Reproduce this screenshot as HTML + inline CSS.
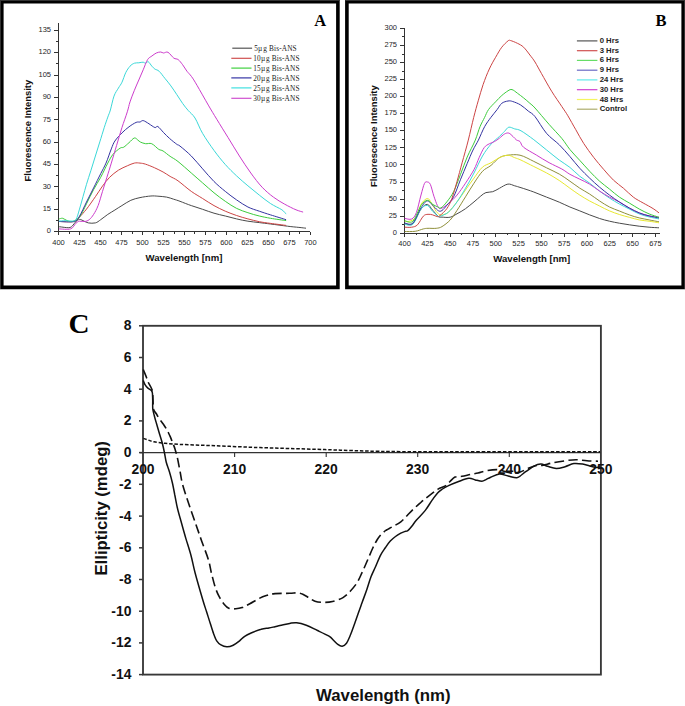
<!DOCTYPE html><html><head><meta charset="utf-8"><style>html,body{margin:0;padding:0;background:#fff;}body{width:685px;height:706px;overflow:hidden;}svg{display:block;}text{font-family:"Liberation Sans",sans-serif;}.serif{font-family:"Liberation Serif",serif;}</style></head><body>
<svg width="685" height="706" viewBox="0 0 685 706">
<rect x="0" y="0" width="685" height="706" fill="#fff"/>
<path fill="#000" fill-rule="evenodd" d="M0 0 H339.7 V289.2 H0 Z M3.6 3.5 V285.4 H336.1 V3.5 Z"/>
<path fill="#000" fill-rule="evenodd" d="M345.1 0 H685 V289.2 H345.1 Z M348.7 3.5 V285.4 H681.4 V3.5 Z"/>
<g fill="#333"><rect x="0" y="0" width="1" height="289"/><rect x="0" y="0" width="339.5" height="1"/><rect x="345.3" y="0" width="339.7" height="1"/><rect x="684" y="0" width="1" height="289"/></g>
<g stroke="#333" stroke-width="1" fill="none" shape-rendering="crispEdges">
<path d="M58.5 22.9 V231.7"/>
<path d="M54.3 231.7 H310.4"/>
<path d="M54.3 231.7 H58.5"/>
<path d="M56.1 220.5 H58.5"/>
<path d="M54.3 209.3 H58.5"/>
<path d="M56.1 198.1 H58.5"/>
<path d="M54.3 186.9 H58.5"/>
<path d="M56.1 175.8 H58.5"/>
<path d="M54.3 164.6 H58.5"/>
<path d="M56.1 153.4 H58.5"/>
<path d="M54.3 142.2 H58.5"/>
<path d="M56.1 131 H58.5"/>
<path d="M54.3 119.8 H58.5"/>
<path d="M56.1 108.6 H58.5"/>
<path d="M54.3 97.4 H58.5"/>
<path d="M56.1 86.2 H58.5"/>
<path d="M54.3 75 H58.5"/>
<path d="M56.1 63.8 H58.5"/>
<path d="M54.3 52.7 H58.5"/>
<path d="M56.1 41.5 H58.5"/>
<path d="M54.3 30.3 H58.5"/>
<path d="M58.5 231.7 V235.3"/>
<path d="M69 231.7 V233.8"/>
<path d="M79.5 231.7 V235.3"/>
<path d="M90 231.7 V233.8"/>
<path d="M100.5 231.7 V235.3"/>
<path d="M111 231.7 V233.8"/>
<path d="M121.5 231.7 V235.3"/>
<path d="M132 231.7 V233.8"/>
<path d="M142.5 231.7 V235.3"/>
<path d="M153 231.7 V233.8"/>
<path d="M163.5 231.7 V235.3"/>
<path d="M174 231.7 V233.8"/>
<path d="M184.4 231.7 V235.3"/>
<path d="M194.9 231.7 V233.8"/>
<path d="M205.4 231.7 V235.3"/>
<path d="M215.9 231.7 V233.8"/>
<path d="M226.4 231.7 V235.3"/>
<path d="M236.9 231.7 V233.8"/>
<path d="M247.4 231.7 V235.3"/>
<path d="M257.9 231.7 V233.8"/>
<path d="M268.4 231.7 V235.3"/>
<path d="M278.9 231.7 V233.8"/>
<path d="M289.4 231.7 V235.3"/>
<path d="M299.9 231.7 V233.8"/>
<path d="M310.4 231.7 V235.3"/>
</g>
<g fill="#262626" font-size="7.5">
<text x="51" y="233.4" text-anchor="end">0</text>
<text x="51" y="211" text-anchor="end">15</text>
<text x="51" y="188.6" text-anchor="end">30</text>
<text x="51" y="166.3" text-anchor="end">45</text>
<text x="51" y="143.9" text-anchor="end">60</text>
<text x="51" y="121.5" text-anchor="end">75</text>
<text x="51" y="99.1" text-anchor="end">90</text>
<text x="51" y="76.7" text-anchor="end">105</text>
<text x="51" y="54.4" text-anchor="end">120</text>
<text x="51" y="32" text-anchor="end">135</text>
<text x="58.5" y="244.8" text-anchor="middle">400</text>
<text x="79.5" y="244.8" text-anchor="middle">425</text>
<text x="100.5" y="244.8" text-anchor="middle">450</text>
<text x="121.5" y="244.8" text-anchor="middle">475</text>
<text x="142.5" y="244.8" text-anchor="middle">500</text>
<text x="163.5" y="244.8" text-anchor="middle">525</text>
<text x="184.4" y="244.8" text-anchor="middle">550</text>
<text x="205.4" y="244.8" text-anchor="middle">575</text>
<text x="226.4" y="244.8" text-anchor="middle">600</text>
<text x="247.4" y="244.8" text-anchor="middle">625</text>
<text x="268.4" y="244.8" text-anchor="middle">650</text>
<text x="289.4" y="244.8" text-anchor="middle">675</text>
<text x="310.4" y="244.8" text-anchor="middle">700</text>
</g>
<text x="184" y="261.4" text-anchor="middle" font-size="9.6" font-weight="bold" fill="#111">Wavelength [nm]</text>
<text transform="translate(30.5 130.6) rotate(-90)" text-anchor="middle" font-size="9.4" font-weight="bold" fill="#111">Fluorescence Intensity</text>
<text class="serif" x="314.3" y="25.8" font-size="16.5" font-weight="bold" fill="#000">A</text>
<g fill="none" stroke-width="1" stroke-linejoin="round">
<path stroke="#4a4a4a" d="M58.9 226.8 C59.1 226.8 58.4 226.7 60 226.8 C61.6 227 66.7 227.8 68.8 227.7 C70.9 227.5 71.2 226.9 72.4 225.9 C73.6 224.9 74.7 222.6 75.9 221.5 C77.1 220.4 78.3 219.6 79.5 219.4 C80.7 219.2 81.5 220 83 220.6 C84.5 221.2 86.2 222.5 88.3 222.9 C90.4 223.3 93.3 223.4 95.4 222.9 C97.5 222.4 98.6 221.1 100.7 219.7 C102.8 218.3 105.4 216 107.8 214.4 C110.2 212.8 112.6 211.5 114.9 210 C117.2 208.5 119.2 207.2 121.9 205.6 C124.6 204 127.8 201.6 130.8 200.3 C133.8 199 136.7 198.3 140 197.6 C143.3 196.9 147.9 196.2 150.9 196 C153.9 195.8 155.3 196 157.9 196.2 C160.5 196.4 164 196.6 166.6 197.1 C169.2 197.6 171.4 198.5 173.6 199.2 C175.8 199.9 177.1 200.2 180 201.3 C182.9 202.4 187.5 204.3 191.3 205.6 C195.1 206.9 198.8 208 202.6 209.3 C206.4 210.6 210.2 212.1 214 213.2 C217.8 214.3 221.5 215.1 225.3 216 C229.1 216.9 232.8 218 236.6 218.9 C240.4 219.8 244.1 220.6 247.9 221.2 C251.7 221.8 255.5 222.1 259.3 222.6 C263.1 223.1 265.9 223.4 270.6 224 C275.3 224.6 282.8 225.6 287.5 226.2 C292.2 226.8 295.8 227.1 298.9 227.4 C302 227.7 304.8 228.1 306 228.2"/>
<path stroke="#cc4444" d="M58.9 221.5 C61.5 221.5 70.8 222.2 74.2 221.5 C77.6 220.8 77.5 219.2 79.5 217.1 C81.5 215 83.8 212.5 86.5 209.1 C89.2 205.7 92.7 200.5 95.4 196.7 C98.1 192.9 100.1 189.3 102.5 186.1 C104.9 182.9 106.9 180 109.6 177.3 C112.2 174.7 115.5 172.1 118.4 170.2 C121.4 168.3 124.6 167 127.3 165.8 C129.9 164.6 132.2 163.6 134.3 163.1 C136.4 162.6 138.1 162.9 140 163.1 C141.9 163.3 143.2 163.4 145.6 164.2 C148 165 151.5 166.4 154.4 167.7 C157.3 169 160.5 170.6 163.1 172 C165.7 173.4 167.6 174.9 170.1 176.4 C172.6 177.9 174.5 178.3 178 180.8 C181.5 183.3 187.2 188.5 191.3 191.4 C195.4 194.3 198.8 196.1 202.6 198.5 C206.4 200.9 210.2 203.5 214 205.6 C217.8 207.7 221.5 209.5 225.3 211.2 C229.1 212.8 232.8 214.2 236.6 215.5 C240.4 216.8 244.1 217.9 247.9 218.9 C251.7 219.9 255.5 220.9 259.3 221.7 C263.1 222.4 266.1 222.8 270.6 223.4 C275.1 224 283.5 225.1 286.1 225.4"/>
<path stroke="#3ccc3c" d="M58.9 219 C59.5 218.9 61.3 218 62.7 218.3 C64.1 218.6 65.5 220.1 67.1 220.6 C68.7 221.1 70.3 222.1 72.4 221.5 C74.5 220.9 77.2 220 79.5 217.1 C81.8 214.2 84.2 208.4 86.5 203.8 C88.8 199.2 91.2 194 93.6 189.6 C96 185.2 98.3 181.7 100.7 177.3 C103.1 172.9 105.7 166.9 107.8 163.1 C109.9 159.2 111 156.7 113.1 154.2 C115.2 151.7 118.4 149.3 120.2 148.1 C122 146.9 122.2 148.1 123.7 147.2 C125.2 146.3 127.2 144.2 129 142.7 C130.8 141.2 132.8 138.4 134.3 138 C135.8 137.6 136.9 139.4 137.9 140.1 C138.9 140.8 139.2 141.5 140.5 142.1 C141.8 142.7 143.7 143.4 145.6 143.7 C147.5 144 149.5 142.8 151.7 143.7 C153.9 144.6 156.8 148.1 158.7 149.3 C160.6 150.5 161.2 149.8 163.1 151 C165 152.2 167.6 154.6 170.1 156.3 C172.6 158.1 174.5 158.7 178 161.5 C181.5 164.3 187.2 169.4 191.3 173 C195.4 176.6 198.8 179.6 202.6 182.9 C206.4 186.2 210.2 189.7 214 192.8 C217.8 195.9 221.5 198.7 225.3 201.3 C229.1 203.9 232.8 206.5 236.6 208.4 C240.4 210.3 244.1 211.4 247.9 212.7 C251.7 214 255.5 215.1 259.3 216 C263.1 216.9 266.1 217.5 270.6 218.3 C275.1 219.1 283.5 220.2 286.1 220.6"/>
<path stroke="#3333a0" d="M58.9 221.5 C61.5 221.5 70.8 222.4 74.2 221.5 C77.6 220.6 77.5 219.4 79.5 216.2 C81.5 212.9 84.2 206.7 86.5 202 C88.8 197.3 91.2 192.6 93.6 187.9 C96 183.2 98.6 177.8 100.7 173.7 C102.8 169.6 104.2 167.2 106 163.1 C107.8 159 109.8 152.6 111.3 148.9 C112.8 145.2 113.1 143.7 114.9 141 C116.7 138.3 119.6 135.4 121.9 133 C124.2 130.6 126.6 128.6 129 126.8 C131.4 125 134.3 123.2 136.1 122.4 C137.9 121.6 138.8 122.3 140 122 C141.2 121.7 141.7 120.3 143.2 120.6 C144.7 120.9 147.1 122.6 149 123.8 C150.9 125 153.4 127 154.9 127.5 C156.4 128 156.4 125.7 157.8 126.5 C159.2 127.3 161.7 130.6 163.6 132.6 C165.5 134.6 167.3 136.4 169.5 138.4 C171.7 140.4 175.1 143 176.8 144.3 C178.6 145.6 177.6 144.2 180 146.1 C182.4 148 187.5 152.2 191.3 156 C195.1 159.8 198.8 164.6 202.6 168.8 C206.4 173.1 210.2 177.7 214 181.5 C217.8 185.3 221.5 188.3 225.3 191.4 C229.1 194.5 232.8 197.3 236.6 199.9 C240.4 202.5 244.1 205.1 247.9 207 C251.7 208.9 255.5 209.9 259.3 211.2 C263.1 212.5 266.1 213.5 270.6 214.9 C275.1 216.3 283.5 218.9 286.1 219.7"/>
<path stroke="#3ad8d8" d="M58.9 221.1 C59.9 221 63 220.7 65 220.7 C67 220.7 69.3 221.3 71.1 221.1 C72.9 220.9 74.5 221.7 75.9 219.7 C77.3 217.7 78.3 212.9 79.5 209.1 C80.7 205.3 81.8 200.8 83 196.7 C84.2 192.6 85.2 188.7 86.5 184.3 C87.8 179.9 89.5 174.9 91 170.2 C92.5 165.5 93.9 160.7 95.4 156 C96.9 151.3 98.3 146.6 99.8 141.9 C101.3 137.2 102.9 131.8 104.2 127.7 C105.5 123.6 106.8 120 107.8 117.1 C108.8 114.1 109.4 113.5 110.4 110 C111.4 106.5 112.7 99.8 114 96.1 C115.3 92.4 117.1 90.4 118.4 88.1 C119.7 85.8 120.8 84.8 122 82.2 C123.2 79.6 124.4 75.4 125.7 72.7 C127 70 128.6 67.8 130 66.2 C131.4 64.6 132.9 63.8 134.4 63.2 C135.9 62.6 137.3 63 138.8 62.8 C140.3 62.6 142.1 62.1 143.2 62.2 C144.3 62.3 144.6 63.3 145.4 63.2 C146.2 63.1 147.2 61.3 148.3 61.8 C149.4 62.3 150.8 65 151.9 66.2 C153 67.4 153.7 68.2 154.9 69.1 C156.1 69.9 157.5 69.7 159.2 71.3 C160.9 72.9 163.1 76.2 165.1 78.6 C167.1 81 168.9 83.2 170.9 85.9 C172.9 88.6 174.9 91.7 176.8 94.6 C178.8 97.5 180.7 100.7 182.6 103.4 C184.5 106.1 186.3 108.3 188.4 110.7 C190.5 113.1 192.6 114.2 195 118 C197.4 121.8 199.4 128 202.6 133.4 C205.8 138.8 210.2 145.2 214 150.4 C217.8 155.6 221.5 160.2 225.3 164.5 C229.1 168.8 232.8 172.3 236.6 175.9 C240.4 179.5 244.1 182.6 247.9 185.8 C251.7 189 255.5 192.1 259.3 195.1 C263.1 198.1 266.8 201.1 270.6 203.6 C274.4 206.1 279.3 208.1 281.9 209.8 C284.5 211.6 285.4 213.4 286.1 214.1"/>
<path stroke="#cc3ccc" d="M58.9 228.9 C60.8 228.9 67.8 229.8 70.6 228.9 C73.4 228 74.4 224.6 75.9 223.3 C77.4 222 78 221.5 79.5 221.2 C81 220.9 83.2 221.8 84.8 221.5 C86.4 221.2 87.7 220.9 89.2 219.7 C90.7 218.5 92.1 216.8 93.6 214.4 C95.1 212.1 96.6 209.4 98.1 205.6 C99.6 201.8 101 196.1 102.5 191.4 C104 186.7 105.4 182 106.9 177.3 C108.4 172.6 109.7 168.4 111.3 163.1 C112.9 157.8 114.8 151.3 116.6 145.4 C118.4 139.5 120.1 133.3 121.9 127.7 C123.7 122.1 126 116.1 127.3 111.8 C128.7 107.5 128.8 105.5 130 101.9 C131.2 98.3 132.9 94 134.4 90.3 C135.9 86.6 137.3 83.4 138.8 80 C140.3 76.6 141.7 73.2 143.2 69.8 C144.7 66.4 146.1 61.9 147.6 59.6 C149.1 57.3 150.4 57.1 151.9 56 C153.4 54.9 154.8 53.7 156.3 53 C157.8 52.3 159.5 52 160.7 52 C161.9 52 162.4 53 163.6 53 C164.8 53 166.3 51.4 168 52.3 C169.7 53.1 172.1 56.9 173.8 58.1 C175.5 59.3 176.7 58.5 178.2 59.6 C179.7 60.7 181.1 62.8 182.6 64.7 C184.1 66.7 185.5 69.3 187 71.3 C188.5 73.2 189.7 74.1 191.4 76.4 C193.1 78.7 194.2 80.5 197 85.3 C199.8 90.1 205 99.4 208.3 105.1 C211.6 110.8 213.5 113.9 216.8 119.3 C220.1 124.7 224.3 131.5 228.1 137.6 C231.9 143.7 235.6 150.1 239.4 156 C243.2 161.9 247 167.8 250.8 173 C254.6 178.2 258.3 183.2 262.1 187.2 C265.9 191.2 269.6 194.3 273.4 197.1 C277.2 199.9 280.9 202.1 284.7 204.2 C288.5 206.3 292.9 208.5 296 209.8 C299.1 211.1 301.9 211.7 303.1 212.1"/>
</g>
<path d="M232.3 48.2 H252.1" stroke="#555" stroke-width="1.2"/>
<text class="serif" x="254.3" y="50.8" font-size="7.3" letter-spacing="0.15" fill="#222">5µ g Bis-ANS</text>
<path d="M231.3 58.3 H251.5" stroke="#d05050" stroke-width="1.2"/>
<text class="serif" x="253.3" y="60.9" font-size="7.3" letter-spacing="0.15" fill="#222">10µ g Bis-ANS</text>
<path d="M231.3 68.1 H251.5" stroke="#40d040" stroke-width="1.2"/>
<text class="serif" x="253.3" y="70.7" font-size="7.3" letter-spacing="0.15" fill="#222">15µ g Bis-ANS</text>
<path d="M231.3 77.9 H251.5" stroke="#3535a5" stroke-width="1.2"/>
<text class="serif" x="253.3" y="80.5" font-size="7.3" letter-spacing="0.15" fill="#222">20µ g Bis-ANS</text>
<path d="M231.3 87.9 H251.5" stroke="#40e0e0" stroke-width="1.2"/>
<text class="serif" x="253.3" y="90.5" font-size="7.3" letter-spacing="0.15" fill="#222">25µ g Bis-ANS</text>
<path d="M231.3 98.3 H251.5" stroke="#d050d0" stroke-width="1.2"/>
<text class="serif" x="253.3" y="100.9" font-size="7.3" letter-spacing="0.15" fill="#222">30µ g Bis-ANS</text>
<g stroke="#333" stroke-width="1" fill="none" shape-rendering="crispEdges">
<path d="M404.6 28.4 V233.2"/>
<path d="M400.1 233.2 H659.8"/>
<path d="M400.1 233.2 H404.6"/>
<path d="M402.3 224.7 H404.6"/>
<path d="M400.1 216.1 H404.6"/>
<path d="M402.3 207.6 H404.6"/>
<path d="M400.1 199.1 H404.6"/>
<path d="M402.3 190.5 H404.6"/>
<path d="M400.1 182 H404.6"/>
<path d="M402.3 173.5 H404.6"/>
<path d="M400.1 164.9 H404.6"/>
<path d="M402.3 156.4 H404.6"/>
<path d="M400.1 147.9 H404.6"/>
<path d="M402.3 139.3 H404.6"/>
<path d="M400.1 130.8 H404.6"/>
<path d="M402.3 122.3 H404.6"/>
<path d="M400.1 113.7 H404.6"/>
<path d="M402.3 105.2 H404.6"/>
<path d="M400.1 96.7 H404.6"/>
<path d="M402.3 88.1 H404.6"/>
<path d="M400.1 79.6 H404.6"/>
<path d="M402.3 71.1 H404.6"/>
<path d="M400.1 62.5 H404.6"/>
<path d="M402.3 54 H404.6"/>
<path d="M400.1 45.5 H404.6"/>
<path d="M402.3 36.9 H404.6"/>
<path d="M400.1 28.4 H404.6"/>
<path d="M404.6 233.2 V237"/>
<path d="M416 233.2 V235.3"/>
<path d="M427.4 233.2 V237"/>
<path d="M438.8 233.2 V235.3"/>
<path d="M450.2 233.2 V237"/>
<path d="M461.6 233.2 V235.3"/>
<path d="M473 233.2 V237"/>
<path d="M484.4 233.2 V235.3"/>
<path d="M495.8 233.2 V237"/>
<path d="M507.2 233.2 V235.3"/>
<path d="M518.6 233.2 V237"/>
<path d="M530 233.2 V235.3"/>
<path d="M541.4 233.2 V237"/>
<path d="M552.8 233.2 V235.3"/>
<path d="M564.2 233.2 V237"/>
<path d="M575.6 233.2 V235.3"/>
<path d="M587 233.2 V237"/>
<path d="M598.4 233.2 V235.3"/>
<path d="M609.8 233.2 V237"/>
<path d="M621.2 233.2 V235.3"/>
<path d="M632.6 233.2 V237"/>
<path d="M644 233.2 V235.3"/>
<path d="M655.4 233.2 V237"/>
</g>
<g fill="#262626" font-size="7.5">
<text x="397" y="234.8" text-anchor="end">0</text>
<text x="397" y="217.7" text-anchor="end">25</text>
<text x="397" y="200.7" text-anchor="end">50</text>
<text x="397" y="183.6" text-anchor="end">75</text>
<text x="397" y="166.5" text-anchor="end">100</text>
<text x="397" y="149.5" text-anchor="end">125</text>
<text x="397" y="132.4" text-anchor="end">150</text>
<text x="397" y="115.3" text-anchor="end">175</text>
<text x="397" y="98.3" text-anchor="end">200</text>
<text x="397" y="81.2" text-anchor="end">225</text>
<text x="397" y="64.1" text-anchor="end">250</text>
<text x="397" y="47.1" text-anchor="end">275</text>
<text x="397" y="30" text-anchor="end">300</text>
<text x="404.6" y="245.6" text-anchor="middle">400</text>
<text x="427.4" y="245.6" text-anchor="middle">425</text>
<text x="450.2" y="245.6" text-anchor="middle">450</text>
<text x="473" y="245.6" text-anchor="middle">475</text>
<text x="495.8" y="245.6" text-anchor="middle">500</text>
<text x="518.6" y="245.6" text-anchor="middle">525</text>
<text x="541.4" y="245.6" text-anchor="middle">550</text>
<text x="564.2" y="245.6" text-anchor="middle">575</text>
<text x="587" y="245.6" text-anchor="middle">600</text>
<text x="609.8" y="245.6" text-anchor="middle">625</text>
<text x="632.6" y="245.6" text-anchor="middle">650</text>
<text x="655.4" y="245.6" text-anchor="middle">675</text>
</g>
<text x="531.8" y="261.8" text-anchor="middle" font-size="9.6" font-weight="bold" fill="#111">Wavelength [nm]</text>
<text transform="translate(377.3 136.2) rotate(-90)" text-anchor="middle" font-size="9.4" font-weight="bold" fill="#111">Fluorescence Intensity</text>
<text class="serif" x="655.5" y="26" font-size="16.5" font-weight="bold" fill="#000">B</text>
<g fill="none" stroke-width="1" stroke-linejoin="round">
<path stroke="#4a4a4a" d="M404.7 223.6 C406.1 223.6 410.1 226 412.8 223.6 C415.5 221.2 418.6 212.3 421 209.1 C423.4 205.9 425.4 204.2 427.4 204.4 C429.3 204.6 430.8 208.2 432.7 210.2 C434.6 212.2 436.9 215.4 438.5 216.6 C440.1 217.8 440.1 217 442 217.1 C443.9 217.2 447.7 217.8 450.2 217.2 C452.7 216.6 454.4 215.2 457 213.8 C459.6 212.4 462.7 210.7 465.5 208.7 C468.3 206.7 471.4 204 474 201.9 C476.6 199.8 478.8 197.6 480.8 196 C482.8 194.4 483.9 193.3 485.9 192.6 C487.9 191.9 490.4 192.4 492.7 191.7 C494.9 191 496.9 189.6 499.4 188.3 C501.9 187 505.3 184.5 507.9 184.1 C510.4 183.7 512.5 185.2 514.7 185.8 C516.9 186.4 517.8 186.7 521 187.7 C524.2 188.7 529.5 190.4 533.8 192 C538 193.6 542.2 195.4 546.5 197.1 C550.8 198.8 555.4 200.5 559.3 202.2 C563.2 203.8 566.5 205.6 569.9 207 C573.3 208.4 576.5 209.6 579.8 210.9 C583.1 212.2 586.4 213.6 589.7 214.9 C593 216.2 596.3 217.4 599.6 218.5 C602.9 219.6 606.2 220.4 609.5 221.2 C612.8 222 616.1 222.6 619.4 223.2 C622.7 223.8 626 224.3 629.3 224.8 C632.6 225.3 635.9 225.8 639.2 226.2 C642.5 226.6 645.8 226.9 649.1 227.2 C652.4 227.5 657.4 227.7 659 227.8"/>
<path stroke="#8f8f3a" d="M404.7 231.5 C406.4 231.5 412.1 231.7 415.2 231.3 C418.3 230.9 421.3 229.4 423.4 228.9 C425.5 228.4 425.9 228.4 428 228.3 C430.1 228.2 433.9 228.6 436.2 228.3 C438.5 228 439.7 228 442 226.6 C444.3 225.2 447.7 222.7 450.2 220 C452.7 217.3 454.4 214.3 457 210.4 C459.6 206.5 462.7 201.3 465.5 196.8 C468.3 192.3 471.2 187.4 474 183.2 C476.8 178.9 479.7 174.3 482.5 171.3 C485.3 168.3 488.2 167.7 491 165.4 C493.8 163.1 496.6 159.4 499.4 157.7 C502.2 156 504.5 155.6 507.9 155.2 C511.3 154.8 515.7 154.2 520 155.2 C524.3 156.2 529.4 159.3 533.8 161.4 C538.2 163.5 542.2 165.7 546.5 167.8 C550.8 169.9 555.4 171.9 559.3 174.1 C563.2 176.3 566.5 178.8 569.9 181.2 C573.3 183.5 576.5 186 579.8 188.2 C583.1 190.3 586.4 192 589.7 194.1 C593 196.2 596.3 198.8 599.6 201 C602.9 203.2 606.2 205.3 609.5 207 C612.8 208.7 616.1 209.7 619.4 211 C622.7 212.3 626 213.8 629.3 214.9 C632.6 216.1 635.9 217.1 639.2 217.9 C642.5 218.7 645.8 219.2 649.1 219.9 C652.4 220.6 657.4 221.5 659 221.8"/>
<path stroke="#e8e830" d="M404.7 221.3 C405.4 221.3 407.1 222 409 221.3 C410.9 220.6 414.4 220 416.4 217.2 C418.4 214.4 419.2 207.5 421 204.4 C422.8 201.3 425.6 198.7 427.4 198.5 C429.1 198.3 430 201 431.5 203.2 C433 205.3 434.7 209.4 436.2 211.4 C437.7 213.4 438.9 214.4 440.3 214.9 C441.7 215.4 443 214.8 444.4 214.3 C445.8 213.8 446.4 214.2 448.5 212.1 C450.6 210 454.2 205.6 457 201.9 C459.8 198.2 462.7 194 465.5 190 C468.3 186 471.2 181.9 474 178.1 C476.8 174.3 479.7 169.6 482.5 167.1 C485.3 164.6 488.2 164.4 491 162.8 C493.8 161.2 496.6 159 499.4 157.7 C502.2 156.4 505.3 155.2 507.9 155.2 C510.4 155.2 512.5 156.9 514.7 157.7 C516.9 158.5 517.8 158.6 521 160.1 C524.2 161.6 529.5 164.4 533.8 166.5 C538 168.6 542.2 170.6 546.5 172.9 C550.8 175.2 555.4 177.9 559.3 180.5 C563.2 183.1 566.5 185.8 569.9 188.2 C573.3 190.6 576.5 193 579.8 195.1 C583.1 197.2 586.4 199.2 589.7 201 C593 202.8 596.3 204.3 599.6 206 C602.9 207.7 606.2 209.5 609.5 210.9 C612.8 212.3 616.1 213.4 619.4 214.5 C622.7 215.6 626 216.4 629.3 217.3 C632.6 218.2 635.9 219.2 639.2 219.9 C642.5 220.6 645.8 220.7 649.1 221.2 C652.4 221.7 657.4 222.5 659 222.8"/>
<path stroke="#3ad8d8" d="M404.7 224.2 C406.1 224.2 410.1 226.7 412.8 224.2 C415.5 221.7 418.6 212.2 421 209.1 C423.4 206 425.4 205.1 427.4 205.5 C429.3 205.9 430.8 209.6 432.7 211.4 C434.6 213.2 437.3 215.8 438.5 216.6 C439.7 217.4 438.3 217.1 440 216.3 C441.7 215.6 445.7 214.5 448.5 212.1 C451.3 209.7 454.2 205.9 457 201.9 C459.8 197.9 462.7 193.1 465.5 188.3 C468.3 183.5 471.2 178.4 474 173 C476.8 167.6 479.7 160.8 482.5 156 C485.3 151.2 488.2 147.4 491 144.2 C493.8 140.9 497.1 138.6 499.4 136.5 C501.6 134.4 502.9 133 504.5 131.4 C506.1 129.8 507.1 127.6 508.8 127.2 C510.5 126.8 512.7 128.3 514.7 128.9 C516.7 129.5 517.8 129 521 130.8 C524.2 132.6 529.5 136.5 533.8 139.7 C538 142.9 542.2 146.5 546.5 149.9 C550.8 153.3 555.4 157.2 559.3 160.1 C563.2 163 566.5 164.7 569.9 167.4 C573.3 170.1 576.5 173.7 579.8 176.3 C583.1 178.9 586.4 180.7 589.7 183.2 C593 185.7 596.3 188.6 599.6 191.1 C602.9 193.6 606.2 195.9 609.5 198.1 C612.8 200.2 616.1 202.2 619.4 204 C622.7 205.8 626 207.3 629.3 209 C632.6 210.7 635.9 212.6 639.2 213.9 C642.5 215.2 645.8 216.1 649.1 216.9 C652.4 217.7 657.4 218.6 659 218.9"/>
<path stroke="#cc3ccc" d="M404.7 218.4 C405.9 218.5 409.8 220 411.7 219 C413.6 218 414.8 216.6 416.4 212.6 C417.9 208.6 419.6 199.9 421 195 C422.4 190.1 423.4 185.6 424.5 183.4 C425.6 181.2 426.4 181.8 427.4 182 C428.4 182.2 429.3 182.1 430.4 184.5 C431.5 186.9 432.7 192.7 433.9 196.2 C435.1 199.7 436.3 203.4 437.4 205.5 C438.5 207.6 438.6 208.9 440.5 208.6 C442.4 208.3 445.8 205.8 448.5 203.6 C451.2 201.3 454.2 198.5 457 195.1 C459.8 191.7 462.7 187.4 465.5 183.2 C468.3 178.9 471.7 173.8 474 169.6 C476.3 165.3 477.4 161.4 479.1 157.7 C480.8 154 482.5 149.9 484.2 147.6 C485.9 145.3 487.6 144.8 489.3 143.8 C491 142.8 492.7 142.5 494.4 141.6 C496.1 140.7 497.7 139.5 499.4 138.2 C501.1 136.9 502.9 134.8 504.5 134 C506.1 133.2 507.4 132.7 508.8 133.1 C510.2 133.5 511.7 135.4 513 136.5 C514.3 137.6 515.2 139.1 516.4 139.9 C517.6 140.8 518.8 140.4 520 141.6 C521.2 142.8 520.9 145.1 523.6 147.3 C526.3 149.5 532 152.4 536.3 155 C540.5 157.6 544.9 160.4 549.1 162.7 C553.4 165 558.3 167.1 561.8 169 C565.3 170.9 566.9 172.6 569.9 174.3 C572.9 176 576.5 177.5 579.8 179.2 C583.1 180.8 586.4 182.2 589.7 184.2 C593 186.2 596.3 188.9 599.6 191.1 C602.9 193.2 606.2 195.3 609.5 197.1 C612.8 198.9 616.1 200.2 619.4 202 C622.7 203.8 626 206.2 629.3 208 C632.6 209.8 635.9 211.6 639.2 212.9 C642.5 214.2 645.8 215.2 649.1 215.9 C652.4 216.6 657.4 217.1 659 217.3"/>
<path stroke="#3333a0" d="M404.7 223.1 C406.1 223.1 410.1 225.6 412.8 223.1 C415.5 220.6 418.6 211.6 421 207.9 C423.4 204.2 425.2 201.1 427.4 200.9 C429.5 200.7 432 204.9 433.9 206.6 C435.8 208.2 437.1 210.2 438.5 210.8 C439.9 211.5 440.6 211.4 442 210.5 C443.4 209.6 444.9 207.6 446.8 205.3 C448.7 203 451.3 201.1 453.6 196.8 C455.9 192.6 458.1 185.4 460.4 179.8 C462.7 174.2 465.1 168.5 467.2 163.5 C469.3 158.5 471.1 153.9 473 150 C474.9 146.1 476.5 144 478.4 140.1 C480.3 136.2 482.5 130.5 484.6 126.7 C486.7 122.9 488.8 120.2 490.9 117.4 C493 114.6 495.3 111.9 497.1 109.6 C498.9 107.2 500 104.7 501.8 103.3 C503.6 101.9 506.2 101.3 508 101 C509.8 100.7 510.6 100.8 512.7 101.5 C514.8 102.2 517.9 103.3 520.5 104.9 C523.1 106.5 525.9 109.1 528.3 111.1 C530.7 113 532 112.9 535 116.6 C538 120.3 542.5 128.6 546.5 133.3 C550.5 138 555.4 140.9 559.3 144.8 C563.2 148.7 566.5 152.6 569.9 156.5 C573.3 160.4 576.5 164.7 579.8 168.3 C583.1 171.9 586.4 175 589.7 178.2 C593 181.3 596.3 184.4 599.6 187.2 C602.9 190 606.2 192.6 609.5 195.1 C612.8 197.6 616.1 199.8 619.4 202 C622.7 204.2 626 206.2 629.3 208 C632.6 209.8 635.9 211.6 639.2 212.9 C642.5 214.2 645.8 215.1 649.1 215.9 C652.4 216.7 657.4 217.6 659 217.9"/>
<path stroke="#3ccc3c" d="M404.7 220.7 C406.1 220.8 410.1 223.8 412.8 221.3 C415.5 218.8 418.6 209 421 205.5 C423.4 202 425.4 200.5 427.4 200.3 C429.3 200.1 431 203.3 432.7 204.4 C434.4 205.5 436 206.1 437.4 206.7 C438.8 207.3 439.3 208.7 440.9 207.9 C442.5 207.1 444.7 204.6 446.8 201.9 C448.9 199.2 451.3 196.2 453.6 191.7 C455.9 187.2 458.1 180.5 460.4 174.7 C462.7 168.9 464.7 162.8 467.2 157 C469.7 151.2 473.2 145.2 475.3 140.1 C477.4 135 478.4 130.5 480 126.7 C481.6 122.9 483.2 120.2 484.6 117.4 C486 114.6 486.7 112.2 488.5 109.6 C490.3 107 493.4 104.1 495.6 101.8 C497.8 99.5 499.7 97.3 501.8 95.5 C503.9 93.7 506.3 91.8 508 90.8 C509.7 89.8 510.4 89.2 512 89.6 C513.6 90 515.5 91.8 517.4 93.2 C519.3 94.6 521.5 96.2 523.6 97.9 C525.7 99.6 528 101.6 529.9 103.3 C531.8 105 531.8 104.5 535 108 C538.2 111.5 544.6 119.3 549.1 124.4 C553.6 129.5 558.3 134.2 561.8 138.4 C565.3 142.6 566.9 145.8 569.9 149.5 C572.9 153.2 576.5 156.8 579.8 160.4 C583.1 164 586.4 167.8 589.7 171.3 C593 174.8 596.3 178.2 599.6 181.2 C602.9 184.2 606.2 186.4 609.5 189.1 C612.8 191.8 616.1 194.8 619.4 197.1 C622.7 199.4 626 201 629.3 203 C632.6 205 635.9 207.2 639.2 209 C642.5 210.8 645.8 212.5 649.1 213.9 C652.4 215.3 657.4 216.7 659 217.3"/>
<path stroke="#cc4444" d="M404.7 227.2 C405.9 227.2 409.6 227.6 411.7 227.2 C413.8 226.8 415.6 226.7 417.5 224.8 C419.4 223 421.6 217.8 423.4 216.1 C425.1 214.3 426.4 214.5 428 214.3 C429.6 214.1 431.1 214.5 432.7 214.9 C434.3 215.3 436.2 216.5 437.4 216.6 C438.6 216.7 438.4 216.8 440 215.5 C441.6 214.2 444.8 211.5 446.8 208.7 C448.8 205.9 450.2 203 451.9 198.5 C453.6 194 455.3 187.4 457 181.5 C458.7 175.6 460.2 169.7 462.1 162.8 C464 155.9 466.4 147.7 468.3 140.1 C470.2 132.5 472 124.1 473.7 117.4 C475.4 110.8 476.8 105.7 478.4 100.2 C480 94.7 481.3 89.8 483.1 84.6 C484.9 79.4 487.2 73.5 489.3 69 C491.4 64.5 493.5 60.9 495.6 57.3 C497.7 53.7 499.7 49.9 501.8 47.2 C503.9 44.5 506.6 42 508 40.9 C509.4 39.8 508.8 40.1 510.4 40.5 C512 40.9 515.2 42.2 517.4 43.3 C519.6 44.4 521.5 45.2 523.6 47.2 C525.7 49.2 528 52.5 529.9 55 C531.8 57.5 533.1 58.9 535 62 C536.9 65.1 538.6 68.5 541.4 73.4 C544.2 78.3 548.2 85.7 551.6 91.2 C555 96.7 559.1 102.4 561.8 106.5 C564.5 110.6 565.6 111.9 567.9 115.8 C570.2 119.7 573.1 125.1 575.8 129.7 C578.4 134.3 580.8 139 583.8 143.6 C586.8 148.2 590.4 153.1 593.7 157.4 C597 161.7 600.3 165.5 603.6 169.3 C606.9 173.1 610.2 177 613.5 180.2 C616.8 183.3 620.1 185.4 623.4 188.2 C626.7 191 630 194.6 633.3 197.1 C636.6 199.6 639.9 201.1 643.2 203 C646.5 204.9 650.5 206.9 653.1 208.6 C655.7 210.2 658 212.2 659 212.9"/>
</g>
<path d="M576.9 40.9 H597.4" stroke="#555" stroke-width="1.2"/>
<text x="599.7" y="42.9" font-size="7.7" font-weight="bold" fill="#222">0 Hrs</text>
<path d="M576.9 50.7 H597.4" stroke="#d05050" stroke-width="1.2"/>
<text x="599.7" y="52.7" font-size="7.7" font-weight="bold" fill="#222">3 Hrs</text>
<path d="M576.9 60.4 H597.4" stroke="#66dd66" stroke-width="1.2"/>
<text x="599.7" y="62.4" font-size="7.7" font-weight="bold" fill="#222">6 Hrs</text>
<path d="M576.9 70.2 H597.4" stroke="#6a6ac4" stroke-width="1.2"/>
<text x="599.7" y="72.2" font-size="7.7" font-weight="bold" fill="#222">9 Hrs</text>
<path d="M576.9 79.9 H597.4" stroke="#60eaea" stroke-width="1.2"/>
<text x="599.7" y="81.9" font-size="7.7" font-weight="bold" fill="#222">24 Hrs</text>
<path d="M576.9 89.7 H597.4" stroke="#d040d0" stroke-width="1.2"/>
<text x="599.7" y="91.7" font-size="7.7" font-weight="bold" fill="#222">30 Hrs</text>
<path d="M576.9 99.5 H597.4" stroke="#f5f560" stroke-width="1.2"/>
<text x="599.7" y="101.5" font-size="7.7" font-weight="bold" fill="#222">48 Hrs</text>
<path d="M576.9 109.2 H597.4" stroke="#acac6c" stroke-width="1.2"/>
<text x="599.7" y="111.2" font-size="7.7" font-weight="bold" fill="#222">Control</text>
<g stroke="#383838" stroke-width="1.85" fill="none">
<rect x="143" y="325.8" width="457.9" height="348.8"/>
<path stroke-width="1.5" d="M139 325.8 H143"/>
<path stroke-width="1.5" d="M139 357.5 H143"/>
<path stroke-width="1.5" d="M139 389.2 H143"/>
<path stroke-width="1.5" d="M139 420.9 H143"/>
<path stroke-width="1.5" d="M139 452.6 H143"/>
<path stroke-width="1.5" d="M139 484.3 H143"/>
<path stroke-width="1.5" d="M139 516.1 H143"/>
<path stroke-width="1.5" d="M139 547.8 H143"/>
<path stroke-width="1.5" d="M139 579.5 H143"/>
<path stroke-width="1.5" d="M139 611.2 H143"/>
<path stroke-width="1.5" d="M139 642.9 H143"/>
<path stroke-width="1.5" d="M139 674.6 H143"/>
</g>
<path d="M140 452.6 H600.9" stroke="#333" stroke-width="1.2" fill="none"/>
<g stroke="#333" stroke-width="1.1" fill="none">
<path d="M234.6 452.6 V457"/>
<path d="M326.2 452.6 V457"/>
<path d="M417.7 452.6 V457"/>
<path d="M509.3 452.6 V457"/>
</g>
<g fill="#111" font-size="13.9" font-weight="bold">
<text x="131.4" y="330.3" text-anchor="end">8</text>
<text x="131.4" y="362" text-anchor="end">6</text>
<text x="131.4" y="393.7" text-anchor="end">4</text>
<text x="131.4" y="425.4" text-anchor="end">2</text>
<text x="131.4" y="457.1" text-anchor="end">0</text>
<text x="131.4" y="488.8" text-anchor="end">-2</text>
<text x="131.4" y="520.6" text-anchor="end">-4</text>
<text x="131.4" y="552.3" text-anchor="end">-6</text>
<text x="131.4" y="584" text-anchor="end">-8</text>
<text x="131.4" y="615.7" text-anchor="end">-10</text>
<text x="131.4" y="647.4" text-anchor="end">-12</text>
<text x="131.4" y="679.1" text-anchor="end">-14</text>
<text x="143" y="474.3" text-anchor="middle">200</text>
<text x="234.6" y="474.3" text-anchor="middle">210</text>
<text x="326.2" y="474.3" text-anchor="middle">220</text>
<text x="417.7" y="474.3" text-anchor="middle">230</text>
<text x="509.3" y="474.3" text-anchor="middle">240</text>
<text x="600.9" y="474.3" text-anchor="middle">250</text>
</g>
<text x="316" y="701.2" font-size="16.8" font-weight="bold" fill="#111">Wavelength (nm)</text>
<text transform="translate(107.3 508.3) rotate(-90)" text-anchor="middle" font-size="16.7" font-weight="bold" fill="#111">Ellipticity (mdeg)</text>
<text class="serif" transform="translate(68.6 332.8) scale(1.1 1)" font-size="26.5" font-weight="bold" fill="#000">C</text>
<g fill="none" stroke="#111" stroke-linejoin="round">
<path stroke-width="1.5" d="M143.3 380.5 C143.6 381.2 144.2 383.3 145 384.6 C145.8 385.9 146.8 387.1 147.9 388.1 C149 389.1 150.6 389.6 151.3 390.4 C152.1 391.2 152.2 391.4 152.4 393 C152.6 394.6 152.6 397.3 152.7 400 C152.8 402.7 152.5 406.2 152.8 409 C153.1 411.8 153.9 414.1 154.5 416.5 C155.1 418.9 155.6 420.5 156.5 423.5 C157.4 426.5 158.7 431.2 159.7 434.5 C160.7 437.8 161.6 440.4 162.4 443.5 C163.2 446.6 163.9 449.9 164.5 453 C165.1 456.1 165.4 458.8 166.2 462 C167 465.2 168.5 468.6 169.5 472 C170.5 475.4 171.4 478.7 172.3 482.5 C173.2 486.3 174 490.8 174.8 495 C175.7 499.2 176.3 503.3 177.4 508 C178.5 512.7 180.1 517.9 181.5 523 C182.9 528.1 184.3 533.2 185.9 538.6 C187.5 544 189.5 549.9 191 555.5 C192.5 561.1 193.1 565.2 195 572.5 C196.9 579.8 200.7 592.8 202.6 599.3 C204.5 605.8 205.2 607.5 206.5 611.5 C207.8 615.5 209 619.6 210.3 623.5 C211.6 627.4 213 632.1 214.1 635 C215.2 637.9 215.6 639.2 216.7 640.8 C217.8 642.4 218.8 643.6 220.5 644.6 C222.2 645.6 224.7 646.7 226.8 646.8 C228.9 646.9 231.1 646.2 233.2 645.2 C235.3 644.2 237.7 642.3 239.6 640.8 C241.5 639.3 242.6 637.7 244.7 636.3 C246.8 634.9 249.6 633.7 252.3 632.5 C255.1 631.3 258.4 630 261.2 629.3 C264 628.5 266.6 628.4 268.9 628 C271.2 627.6 273.1 627.1 275 626.7 C276.9 626.3 277.6 626 280 625.5 C282.4 625 286.9 623.9 289.7 623.4 C292.5 622.9 293.8 622.4 296.6 622.7 C299.4 623 302.8 623.9 306.3 625.2 C309.8 626.5 313.7 628.7 317.5 630.5 C321.3 632.3 326.3 634.6 329 636.2 C331.7 637.8 332 638.8 333.5 640.2 C335 641.6 336.4 643.4 337.8 644.4 C339.2 645.4 340.8 646.4 342.2 646.2 C343.6 646 345.2 644.9 346.5 643.2 C347.8 641.5 348.8 638.8 350 636 C351.2 633.2 352.3 630.2 353.6 626.5 C354.9 622.8 356.6 618.1 358 614 C359.4 609.9 360.8 606.2 362.3 602 C363.8 597.8 365.6 593.2 367 589 C368.4 584.8 369.6 580.5 371 576.8 C372.4 573.1 373.8 570.6 375.4 567 C377 563.4 378.9 558.4 380.6 555.1 C382.3 551.9 383.9 549.9 385.5 547.5 C387.1 545.1 388.6 542.8 390.3 541 C392 539.2 393.8 537.8 395.5 536.5 C397.2 535.2 399.3 534 400.8 533.2 C402.3 532.4 403.3 532 404.5 531.6 C405.7 531.2 406.6 531.5 407.8 530.6 C409.1 529.7 410.6 527.8 412 526 C413.4 524.2 414.3 522.6 416.5 520 C418.7 517.4 422.7 513.8 425.3 510.4 C427.9 507 430.2 502.8 432.3 499.9 C434.4 497 435.9 494.7 437.6 492.9 C439.3 491.1 440.8 490.2 442.5 489 C444.2 487.8 445.3 487.1 448 485.9 C450.7 484.6 455.1 482.8 458.6 481.5 C462.1 480.2 466 478.6 468.8 478.3 C471.6 478 473.1 479.4 475.3 479.9 C477.5 480.4 480.1 481.2 481.9 481.2 C483.7 481.1 484.5 480.3 486 479.6 C487.5 478.9 488.5 478.1 490.7 477.2 C492.9 476.3 496.5 474.2 499.4 474 C502.3 473.8 505.3 475.5 508.2 476.1 C511.1 476.7 514.7 477.9 516.9 477.7 C519.1 477.5 520 476 521.5 475 C523 474 523.6 473.2 525.7 471.7 C527.9 470.2 531.9 467.1 534.4 465.8 C536.9 464.5 538.8 464 541 464.1 C543.2 464.2 545.1 465.6 547.6 466.3 C550.1 467 553.4 468.4 556.3 468.5 C559.2 468.6 562.2 467.5 565.1 466.7 C568 465.9 571 464 573.9 463.6 C576.8 463.2 580 463.7 582.6 464.1 C585.2 464.5 587 465.2 589.2 465.8 C591.4 466.4 593.9 467.2 595.8 467.4 C597.7 467.6 599.7 467.1 600.5 467"/>
<path stroke-width="1.6" stroke-dasharray="9.5 4.3" d="M143.3 369.4 C143.8 370.8 145.7 375.4 146.5 377.5 C147.3 379.6 147.4 380.4 148.2 382.2 C149 384 150.8 386.9 151.5 388.5 C152.2 390.1 152.3 390.1 152.6 392 C152.8 393.9 152.8 397.1 153 400 C153.2 402.9 153 407.2 153.6 409.5 C154.2 411.8 155.6 412.5 156.5 414 C157.4 415.5 157.8 416.7 159 418.4 C160.2 420.1 162.1 422.3 163.4 424.2 C164.7 426.1 165.9 428.1 167 430 C168.1 431.9 168.9 433.7 169.9 435.9 C170.9 438.1 172 441 172.8 443.2 C173.7 445.4 174.3 446.7 175 449 C175.7 451.3 176.4 453.5 177.2 457 C178 460.5 178.9 465.5 179.8 470 C180.7 474.5 181 478.4 182.5 484.2 C184 489.9 186.7 497.7 189 504.5 C191.3 511.3 193.9 518.8 196.1 525 C198.3 531.2 199.9 536.2 202 542 C204.1 547.8 206.9 554.7 208.5 560 C210.1 565.3 210.4 569.2 211.6 573.8 C212.8 578.4 214.1 584 215.4 587.8 C216.7 591.6 217.7 593.9 219.2 596.7 C220.7 599.5 222.7 602.5 224.3 604.4 C225.9 606.3 226.9 607.5 228.8 608.2 C230.7 608.9 233.6 608.9 235.8 608.8 C238 608.7 239.8 608.4 242.1 607.6 C244.4 606.8 247 605.3 249.8 603.8 C252.6 602.3 255.9 600.1 258.7 598.7 C261.4 597.3 263.6 596.4 266.3 595.5 C269 594.6 271.1 594 275 593.6 C278.9 593.2 285.9 593.4 289.7 593.3 C293.4 593.2 295.3 592.8 297.5 592.9 C299.7 593 300.9 593.4 302.8 594.2 C304.7 595 307 596.6 309 597.8 C311 599 312.5 600.4 315 601.2 C317.5 602 320.9 602.4 323.8 602.4 C326.7 602.4 329.3 602.3 332.5 601.5 C335.7 600.7 340.1 599.3 343 597.6 C345.9 595.9 347.7 594 350 591.5 C352.3 589 354.9 586 357 582.8 C359.1 579.5 360.5 575.8 362.3 572 C364.1 568.2 365.9 564 367.6 560 C369.4 556 371.2 551.3 372.8 548 C374.4 544.7 375.6 542.3 377 540 C378.4 537.7 379.9 535.7 381.5 534 C383.1 532.3 384.8 531.2 386.5 530 C388.2 528.8 389.6 528.4 392 527 C394.4 525.6 398.3 523.7 400.8 521.8 C403.3 519.9 405 517.8 407 515.8 C409 513.8 410.8 511.6 413 509.5 C415.2 507.4 417.7 505.2 420 503.2 C422.3 501.2 424.1 499.6 427 497.3 C429.9 495 434.5 491.3 437.6 489.4 C440.7 487.5 443.3 487.2 445.4 485.9 C447.5 484.6 448.4 483 450 481.5 C451.6 480 453 478 455 477.1 C457 476.2 459.5 476.7 462 476.3 C464.5 475.9 467.3 475.1 470 474.5 C472.7 473.9 475.3 473.6 478 473 C480.7 472.4 483.1 471.3 486.3 470.7 C489.5 470.1 494.2 469.5 497.2 469.6 C500.1 469.7 501.8 470.8 504 471.3 C506.2 471.8 507.9 472.6 510.4 472.8 C512.9 473 516.2 473.1 519.1 472.4 C522 471.7 525.2 469.6 527.9 468.5 C530.6 467.4 533 466.4 535.5 465.8 C538 465.2 540.5 465.7 543.2 465.2 C546 464.7 548.4 463.7 552 463 C555.6 462.3 561.1 461.4 565.1 460.8 C569.1 460.2 572.4 459.7 576 459.7 C579.6 459.7 583.3 460.6 587 460.8 C590.7 461.1 596.2 461.1 598 461.2"/>
<path stroke-width="1.5" stroke-dasharray="3.5 1.8" d="M143.4 438.4 C144.2 438.7 146.2 439.4 148 440 C149.8 440.6 151.2 441.2 154 441.8 C156.8 442.4 160.7 442.9 165 443.3 C169.3 443.7 174.2 444.1 180 444.4 C185.8 444.7 193.3 444.9 200 445.2 C206.7 445.4 213.3 445.6 220 445.9 C226.7 446.2 233.3 446.5 240 446.8 C246.7 447.1 251.7 447.3 260 447.6 C268.3 447.9 279.2 448.2 290 448.5 C300.8 448.8 315 449.3 325 449.6 C335 449.9 341.3 450.2 350 450.5 C358.7 450.8 365.3 451.1 377 451.3 C388.7 451.5 382.8 451.6 420 451.7 C457.2 451.8 570 451.7 600 451.7"/>
</g>
</svg></body></html>
